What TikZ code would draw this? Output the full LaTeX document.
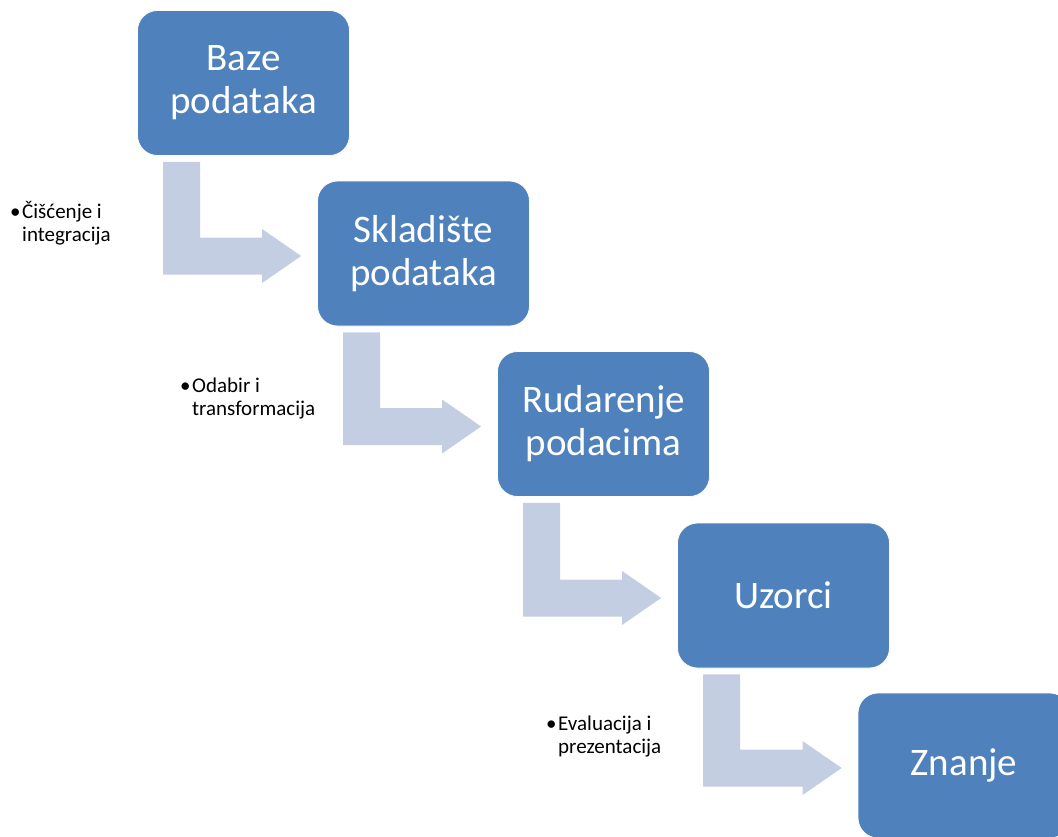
\documentclass[tikz,border=0pt]{standalone}
\usepackage{fontspec}
\setmainfont{Carlito}
\usetikzlibrary{calc}
\definecolor{boxblue}{HTML}{4F81BD}
\definecolor{arrowgray}{HTML}{C4CEE2}
\tikzset{
stage/.style={fill=boxblue, draw=white, line width=0.8pt, rounded corners=20pt,
  minimum width=212pt, minimum height=145pt, text=white, align=center,
  font=\fontsize{39}{43}\selectfont},
note/.style={anchor=base west, inner sep=0pt, font=\fontsize{21}{23.5}\selectfont},
}
% bent block arrow from below one stage to the left of the next
\newcommand{\bentarrow}[2]{%
\fill[color=arrowgray] let \p1=(#1.south west), \p2=(#2.west) in
(\x1+26pt,\y1-6pt) -- (\x1+63pt,\y1-6pt) -- (\x1+63pt,\y2+16pt) --
(\x2-55pt,\y2+16pt) -- (\x2-55pt,\y2+24.5pt) -- (\x2-16pt,\y2-2.5pt) --
(\x2-55pt,\y2-29.5pt) -- (\x2-55pt,\y2-21pt) -- (\x1+26pt,\y2-21pt) -- cycle;}

\begin{document}
\begin{tikzpicture}[%
x=1pt, y=-1pt,
]
\clip (0,0) rectangle (1058,836);
%% stage;
\node[stage] (baze) at (243.5,83) {Baze\\podataka};
%% stage;
\node[stage] (skladiste) at (423.5,253.5) {Skladište\\podataka};
%% stage;
\node[stage] (rudarenje) at (603.5,424) {Rudarenje\\podacima};
%% stage;
\node[stage] (uzorci) at (783.5,595.5) {Uzorci};
%% stage;
\node[stage] (znanje) at (964,765.5) {Znanje};
%% arrow;
\bentarrow{baze}{skladiste}
%% arrow;
\bentarrow{skladiste}{rudarenje}
%% arrow;
\bentarrow{rudarenje}{uzorci}
%% arrow;
\bentarrow{uzorci}{znanje}
%% label;
\node[note] (ciscenje) at (10,218) {\begin{tabular}[t]{@{}l@{}l@{}}\makebox[12pt][l]{•} & Čišćenje i\\ & integracija\end{tabular}};
%% label;
\node[note] (odabir) at (180,392) {\begin{tabular}[t]{@{}l@{}l@{}}\makebox[12pt][l]{•} & Odabir i\\ & transformacija\end{tabular}};
%% label;
\node[note] (evaluacija) at (546,730) {\begin{tabular}[t]{@{}l@{}l@{}}\makebox[12pt][l]{•} & Evaluacija i\\ & prezentacija\end{tabular}};
\end{tikzpicture}
\end{document}
